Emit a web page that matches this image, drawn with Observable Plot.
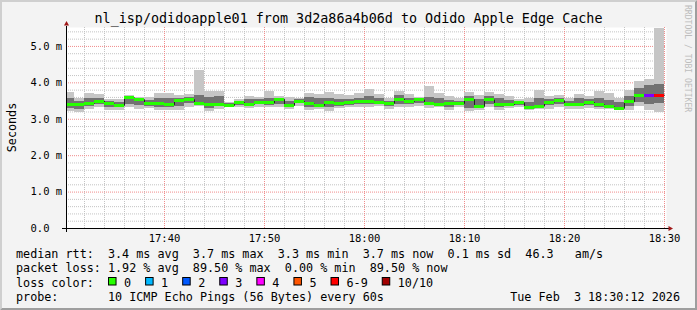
<!DOCTYPE html>
<html>
<head>
<meta charset="utf-8">
<script src="https://cdn.jsdelivr.net/npm/d3@7"></script>
<script src="https://cdn.jsdelivr.net/npm/@observablehq/plot@0.6"></script>
<style>
  html, body { margin: 0; padding: 0; background: #f3f3f3; }
  #chart { position: relative; width: 697px; height: 310px; background: #f3f3f3; overflow: hidden; }
  #chart svg { display: block; }
</style>
</head>
<body>
<div id="chart"></div>
<script>
// ---- data ----
const titleText = "nl_isp/odidoapple01 from 3d2a86a4b06d to Odido Apple Edge Cache";
const firstStep = "2026-02-03T17:30:00Z";   // start of first 1-minute step
const viewStart = "2026-02-03T17:30:12Z";
const viewEnd   = "2026-02-03T18:30:12Z";

// median RTT per minute (ms)
const medianMs = [3.41,3.41,3.44,3.50,3.42,3.38,3.59,3.54,3.44,3.42,
                  3.40,3.51,3.54,3.44,3.41,3.41,3.38,3.46,3.41,3.47,
                  3.45,3.55,3.38,3.49,3.42,3.38,3.47,3.42,3.45,3.49,
                  3.49,3.47,3.44,3.55,3.49,3.53,3.44,3.41,3.42,3.43,
                  3.54,3.35,3.53,3.40,3.40,3.45,3.31,3.36,3.47,3.51,
                  3.41,3.41,3.46,3.40,3.34,3.30,3.48,3.65,3.66,3.66];
// fastest ping per minute (ms)
const minMs = [3.22,3.19,3.26,3.31,3.25,3.25,3.33,3.27,3.29,3.25,
               3.25,3.25,3.33,3.35,3.22,3.27,3.31,3.31,3.29,3.33,
               3.31,3.31,3.27,3.36,3.25,3.27,3.22,3.29,3.33,3.31,
               3.33,3.35,3.27,3.31,3.33,3.36,3.29,3.31,3.25,3.31,
               3.20,3.25,3.31,3.25,3.29,3.33,3.25,3.27,3.27,3.31,
               3.28,3.26,3.30,3.26,3.28,3.26,3.24,3.34,3.23,3.19];
// inner smoke band, low edge (ms)
const loMs = [3.30,3.28,3.36,3.40,3.33,3.31,3.40,3.38,3.35,3.33,
              3.33,3.36,3.42,3.39,3.30,3.34,3.34,3.38,3.35,3.40,
              3.38,3.40,3.32,3.42,3.33,3.32,3.33,3.36,3.39,3.40,
              3.40,3.40,3.34,3.40,3.41,3.44,3.37,3.36,3.33,3.37,
              3.30,3.30,3.41,3.33,3.35,3.38,3.28,3.32,3.37,3.41,
              3.35,3.35,3.39,3.33,3.31,3.28,3.36,3.45,3.40,3.42];
// inner smoke band, high edge (ms)
const hiMs = [3.58,3.50,3.56,3.57,3.48,3.45,3.63,3.56,3.52,3.58,
              3.56,3.57,3.60,3.66,3.60,3.62,3.43,3.50,3.53,3.54,
              3.58,3.58,3.50,3.53,3.60,3.58,3.58,3.55,3.55,3.58,
              3.62,3.57,3.50,3.64,3.57,3.56,3.60,3.57,3.52,3.50,
              3.62,3.55,3.62,3.58,3.52,3.50,3.45,3.58,3.55,3.58,
              3.50,3.56,3.54,3.58,3.52,3.45,3.62,3.85,3.92,3.95];
// slowest ping per minute (ms)
const maxMs = [3.73,3.58,3.71,3.67,3.55,3.53,3.65,3.60,3.61,3.71,
               3.71,3.64,3.67,4.33,3.76,3.75,3.47,3.53,3.62,3.60,
               3.76,3.62,3.60,3.58,3.71,3.69,3.73,3.67,3.65,3.71,
               3.82,3.69,3.56,3.75,3.69,3.60,3.89,3.71,3.62,3.56,
               3.73,3.65,3.73,3.69,3.62,3.53,3.56,3.78,3.62,3.64,
               3.57,3.68,3.63,3.77,3.70,3.57,3.79,4.05,4.10,5.49];
// loss bucket per minute (index into lossLabels)
const lossIdx = [0,0,0,0,0,0,0,0,0,0, 0,0,0,0,0,0,0,0,0,0,
                 0,0,0,0,0,0,0,0,0,0, 0,0,0,0,0,0,0,0,0,0,
                 0,0,0,0,0,0,0,0,0,0, 0,0,0,0,0,0,0,0,3,6];

const lossLabels = ["0","1","2","3","4","5","6-9","10/10"];
const lossColors = ["#26ff00","#00b8ff","#0059ff","#7e00ff","#ff00ff","#ff5500","#ff0000","#a10000"];

const xTickLabels = ["17:40","17:50","18:00","18:10","18:20","18:30"];
const yTickValues = [0, 1, 2, 3, 4, 5];
const yTickLabels = ["0.0","1.0 m","2.0 m","3.0 m","4.0 m","5.0 m"];

const legendRtt   = "median rtt:  3.4 ms avg  3.7 ms max  3.3 ms min  3.7 ms now  0.1 ms sd  46.3   am/s";
const legendLoss  = "packet loss: 1.92 % avg  89.50 % max  0.00 % min  89.50 % now";
const legendColor = "loss color:";
const legendProbe = "probe:       10 ICMP Echo Pings (56 Bytes) every 60s";
const stampText   = "Tue Feb  3 18:30:12 2026";
const yLabel      = "Seconds";
const watermark   = "RRDTOOL / TOBI OETIKER";

// ---- build table ----
const t0 = new Date(firstStep).getTime();
const rows = medianMs.map((m, i) => ({
  t0: new Date(t0 + i * 60000), t1: new Date(t0 + (i + 1) * 60000),
  min: minMs[i], lo: loMs[i], med: m, hi: hiMs[i], max: maxMs[i], loss: lossIdx[i]
}));
const lineData = rows.map(r => ({t: r.t0, med: r.med}))
  .concat([{t: rows[rows.length - 1].t1, med: rows[rows.length - 1].med}]);

const xStart = new Date(viewStart), xEnd = new Date(viewEnd);
const day = viewStart.slice(0, 11);
const xTicks = xTickLabels.map(s => new Date(day + s + ":00Z"));
const xMinor = d3.utcMinute.every(2).range(xStart, xEnd).filter(d => d.getUTCMinutes() % 10 !== 0);
const yMinor = d3.range(1, 28).map(k => k / 5).filter(v => Math.abs(v - Math.round(v)) > 1e-6);

const MONO = "DejaVu Sans Mono";
const gridMinor = "#c4c4c4", gridMajor = "#f08c8c";

const plot = Plot.plot({
  width: 697, height: 310,
  marginTop: 27, marginBottom: 82, marginLeft: 66, marginRight: 31,
  style: {background: "transparent", fontFamily: MONO, fontSize: "10.5px", color: "black", overflow: "visible"},
  x: {type: "utc", domain: [xStart, xEnd], axis: null},
  y: {domain: [0, 5.52], axis: null},
  color: {type: "identity"},
  marks: [
    Plot.frame({fill: "white", stroke: "none"}),
    Plot.ruleY(yMinor, {stroke: gridMinor, strokeDasharray: "1,1"}),
    Plot.ruleX(xMinor, {stroke: gridMinor, strokeDasharray: "1,1"}),
    Plot.ruleY(yTickValues.filter(d => d > 0), {stroke: gridMajor, strokeDasharray: "1,1"}),
    Plot.ruleX(xTicks, {stroke: gridMajor, strokeDasharray: "1,1"}),
    Plot.rect(rows, {x1: "t0", x2: "t1", y1: "min", y2: "max", fill: "#c6c6c6", clip: true, shapeRendering: "crispEdges"}),
    Plot.rect(rows, {x1: "t0", x2: "t1", y1: "lo", y2: "hi", fill: "#727272", clip: true, shapeRendering: "crispEdges"}),
    Plot.line(lineData, {x: "t", y: "med", curve: "step-after", stroke: "#202020", strokeWidth: 1, clip: true}),
    Plot.ruleY(rows, {x1: "t0", x2: "t1", y: "med", stroke: d => lossColors[d.loss], strokeWidth: 3, clip: true, shapeRendering: "crispEdges"}),
    Plot.ruleY([0], {stroke: "black", insetLeft: -4, insetRight: -3}),
    Plot.ruleX([xStart], {stroke: "black", insetBottom: -4, insetTop: -1}),
    Plot.text(yTickValues, {y: d => d, text: (d, i) => yTickLabels[i], frameAnchor: "left", textAnchor: "start", dx: -36, fontSize: 10.5, fill: "black"}),
    Plot.text(xTicks, {x: d => d, text: (d, i) => xTickLabels[i], frameAnchor: "bottom", dy: 13.5, lineAnchor: "bottom", fontSize: 10.5, fill: "black"})
  ]
});
document.getElementById("chart").appendChild(plot);

// ---- decorations: arrows, title, legend, frame ----
const svg = d3.select(plot);
const xs = plot.scale("x"), ys = plot.scale("y");
const xL = xs.apply(xStart), xR = xs.apply(xEnd), y0 = ys.apply(0);
const arrowColor = "#a01818";
svg.append("path").attr("d", `M${xR + 7},${y0 + 0.5} L${xR + 2.5},${y0 - 2} L${xR + 2.5},${y0 + 3} Z`).attr("fill", arrowColor);
svg.append("path").attr("d", `M${xL + 0.5},${21} L${xL - 2},${25.5} L${xL + 3},${25.5} Z`).attr("fill", arrowColor);

function txt(x, y, s, size, opts = {}) {
  const t = svg.append("text")
    .attr("x", x).attr("y", y)
    .attr("xml:space", "preserve")
    .style("white-space", "pre")
    .attr("font-family", MONO)
    .attr("font-size", size)
    .attr("fill", opts.fill || "black")
    .attr("text-anchor", opts.anchor || "start")
    .text(s);
  if (opts.transform) t.attr("transform", opts.transform);
  return t;
}
const LS = 11.76, CW = LS * 0.602;
txt(348.5, 23, titleText, 13.4, {anchor: "middle"});
txt(0, 0, yLabel, LS, {anchor: "middle", transform: "translate(15.5,127.5) rotate(-90)"});
txt(0, 0, watermark, 8.1, {fill: "#bdbdbd", transform: "translate(684.5,5) rotate(90)"});

txt(16, 257.5, legendRtt, LS);
txt(16, 272, legendLoss, LS);
txt(16, 286.5, legendColor, LS);
let bx = 16 + 13 * CW;
lossLabels.forEach((lab, i) => {
  svg.append("rect").attr("x", bx + 0.5).attr("y", 277.5).attr("width", 7.5).attr("height", 7.5)
    .attr("fill", lossColors[i]).attr("stroke", "black").attr("stroke-width", 1);
  txt(bx + 16, 286.5, lab, LS);
  bx += 16 + lab.length * CW + 14;
});
txt(16, 301, legendProbe, LS);
txt(680, 301, stampText, LS, {anchor: "end"});

// 3D frame
svg.append("path").attr("d", "M0,310 L0,0 L697,0 L695,2 L2,2 L2,308 Z").attr("fill", "#cfcfcf");
svg.append("path").attr("d", "M697,0 L697,310 L0,310 L2,308 L695,308 L695,2 Z").attr("fill", "#9e9e9e");
</script>
</body>
</html>
